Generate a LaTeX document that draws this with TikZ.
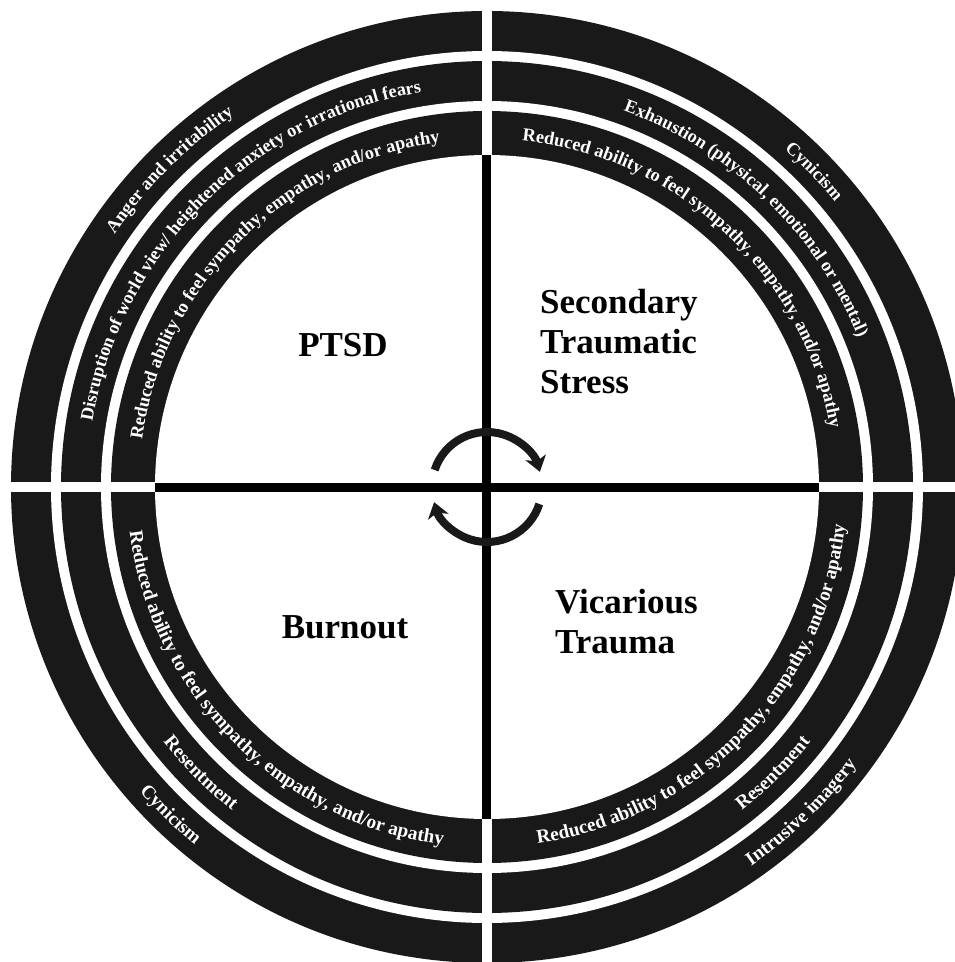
\documentclass[tikz,border=0pt]{standalone}
\usepackage{fontspec}
\setmainfont{Liberation Serif}
\usetikzlibrary{decorations.text,arrows.meta}
\definecolor{ringblack}{gray}{0.1}
\newcommand\rfup{\fontsize{18.3}{20}\selectfont\bfseries\color{white}}
\newcommand\rfdn{\fontsize{19.3}{20}\selectfont\bfseries\color{white}}
\begin{document}
\begin{tikzpicture}[x=1pt,y=1pt,
  uptext/.style={decorate,decoration={text along path,text align=center,text={|\rfup|#1}}},
  dntext/.style={decorate,decoration={text along path,text align=center,text={|\rfdn|#1}}},
  quadlabel/.style={font=\fontsize{35}{40}\selectfont\bfseries, inner sep=0pt, align=left, text=black},
  cyclearrow/.style={draw=ringblack, line width=8pt, -{Stealth[length=15pt,width=21pt,inset=4pt]}}]
\useasboundingbox (-487,-475) rectangle (468,487);
% rings
\fill[ringblack] (0,0) circle[radius=476];
\fill[white] (0,0) circle[radius=436];
\fill[ringblack] (0,0) circle[radius=426];
\fill[white] (0,0) circle[radius=386];
\fill[ringblack] (0,0) circle[radius=376];
\fill[white] (0,0) circle[radius=332];
% white cross through rings
\fill[white] (-5,-480) rectangle (5,480);
\fill[white] (-480,-5) rectangle (480,5);
% black cross inside
\fill[black] (-4.5,-332) rectangle (4.5,332);
\fill[black] (-332,-4.5) rectangle (332,4.5);
% top-left texts
\path[uptext={Anger and irritability}] (180:450) arc[start angle=180,end angle=90,radius=450];
\path[uptext={Disruption of world view/ heightened anxiety or irrational fears}] (180:400) arc[start angle=180,end angle=90,radius=400];
\path[uptext={Reduced ability to feel sympathy, empathy, and/or apathy}] (180:348) arc[start angle=180,end angle=90,radius=348];
% top-right texts
\path[uptext={Cynicism}] (89:450) arc[start angle=89,end angle=-1,radius=450];
\path[uptext={Exhaustion (physical, emotional or mental)}] (91:400) arc[start angle=91,end angle=1,radius=400];
\path[uptext={Reduced ability to feel sympathy, empathy, and/or apathy}] (92:348) arc[start angle=92,end angle=2,radius=348];
% bottom-left texts
\path[dntext={Cynicism}] (181:462) arc[start angle=181,end angle=271,radius=462];
\path[dntext={Resentment}] (180:412) arc[start angle=180,end angle=270,radius=412];
\path[dntext={Reduced ability to feel sympathy, empathy, and/or apathy}] (180:360) arc[start angle=180,end angle=270,radius=360];
% bottom-right texts
\path[dntext={Intrusive imagery}] (269:462) arc[start angle=269,end angle=359,radius=462];
\path[dntext={Resentment}] (270:412) arc[start angle=270,end angle=360,radius=412];
\path[dntext={Reduced ability to feel sympathy, empathy, and/or apathy}] (271:360) arc[start angle=271,end angle=361,radius=360];
% cycle arrows
\draw[cyclearrow] (162:55) arc[start angle=162,end angle=16,radius=55];
\draw[cyclearrow] (-18:55) arc[start angle=-18,end angle=-164,radius=55];
% quadrant labels
\node[quadlabel] (ptsd) at (-144,142) {PTSD};
\node[quadlabel, anchor=west] (sts) at (53,145) {Secondary\\Traumatic\\Stress};
\node[quadlabel] (burnout) at (-142,-140) {Burnout};
\node[quadlabel, anchor=west] (vt) at (68,-135) {Vicarious\\Trauma};
\end{tikzpicture}
\end{document}
